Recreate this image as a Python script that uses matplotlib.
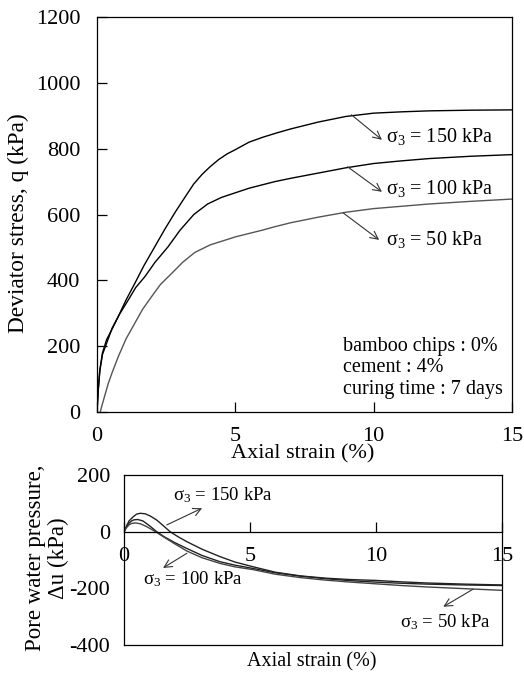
import matplotlib; matplotlib.use("Agg")
import matplotlib.pyplot as plt

plt.rcParams.update({"font.family": "Liberation Serif", "font.size": 14,
                     "mathtext.fontset": "custom", "mathtext.rm": "Liberation Serif",
                     "mathtext.it": "Liberation Serif:italic", "axes.linewidth": 0.9,
                     "axes.unicode_minus": False})

# deviator stress vs axial strain
q150_x = [0, 0.05, 0.11, 0.2, 0.35, 0.55, 0.77, 1.05, 1.37, 1.7, 2.09, 2.45, 2.85, 3.2, 3.5, 3.8, 4.1, 4.4, 4.7, 5.0, 5.5, 6.0, 6.5, 7.0, 8.0, 9.0, 10.0, 11.0, 12.0, 13.5, 15.0]
q150_y = [0, 70, 128, 175, 209, 255, 290, 340, 391, 445, 502, 555, 610, 655, 693, 722, 746, 767, 784, 797, 820, 835, 848, 860, 881, 898, 908, 912, 915, 917, 918]
q100_x = [0, 0.05, 0.1, 0.2, 0.35, 0.53, 0.8, 1.13, 1.4, 1.73, 2.1, 2.57, 3.0, 3.5, 4.0, 4.5, 5.0, 5.5, 6.43, 7.0, 8.0, 9.0, 10.0, 11.0, 12.0, 13.5, 15.0]
q100_y = [0, 70, 125, 180, 220, 249, 295, 340, 378, 411, 455, 502, 552, 600, 632, 652, 666, 680, 700, 710, 726, 742, 755, 763, 770, 777, 782]
q50_x = [0.12, 0.17, 0.25, 0.41, 0.55, 0.77, 1.05, 1.37, 1.65, 1.97, 2.3, 2.7, 3.1, 3.54, 4.1, 4.74, 5.0, 6.0, 6.43, 7.0, 8.0, 9.0, 10.0, 11.0, 12.0, 13.5, 15.0]
q50_y = [0, 16, 40, 87, 120, 168, 222, 270, 312, 350, 388, 421, 455, 485, 508, 525, 532, 553, 563, 575, 592, 607, 618, 625, 632, 640, 647]

# pore water pressure vs axial strain
u150_x = [0, 0.1, 0.2, 0.37, 0.5, 0.65, 0.85, 1.05, 1.3, 1.55, 1.83, 2.15, 2.49, 3.1, 3.81, 4.4, 5.13, 6, 7, 8, 9, 10, 11, 12, 13.5, 15]
u150_y = [0, 20, 38, 53, 62, 65, 63, 55, 41, 22, 0, -18, -35, -62, -88, -107, -124, -143, -156, -164, -169, -172, -177, -181, -185, -188]
u100_x = [0, 0.1, 0.2, 0.3, 0.4, 0.55, 0.75, 1.0, 1.3, 1.6, 2.0, 2.49, 3.1, 3.81, 4.4, 5.13, 6, 7, 8, 9, 10, 11, 12, 13.5, 15]
u100_y = [0, 17, 30, 38, 42, 43, 38, 22, 0, -18, -38, -59, -84, -106, -118, -130, -145, -157, -166, -173, -178, -182, -185, -188, -190]
u50_x = [0, 0.1, 0.2, 0.3, 0.45, 0.65, 0.9, 1.25, 1.6, 2.0, 2.49, 3.1, 3.81, 4.4, 5.13, 6, 7, 8, 9, 10, 11, 12, 13.5, 15]
u50_y = [0, 14, 24, 29, 31, 28, 18, 0, -20, -42, -68, -92, -112, -124, -134, -150, -162, -171, -178, -184, -190, -195, -201, -207]

labels = ["σ$_3$ = 150 kPa", "σ$_3$ = 100 kPa", "σ$_3$ = 50 kPa"]
arr = dict(arrowstyle="->", lw=0.8, color="#333333", shrinkA=0, shrinkB=0)

fig = plt.figure(figsize=(5.24, 6.74), dpi=100)

# top panel
ax = fig.add_axes([0.185, 0.3887, 0.792, 0.586])
ax.plot(q150_x, q150_y, color="black", lw=1.0)
ax.plot(q100_x, q100_y, color="black", lw=1.0)
ax.plot(q50_x, q50_y, color="#555555", lw=1.0)
ax.set_xlim(0, 15); ax.set_ylim(0, 1200)
ax.set_xticks([0, 5, 10, 15]); ax.set_yticks(range(0, 1201, 200))
ax.tick_params(direction="in", length=7, width=0.9, labelsize=16)
ax.tick_params(axis="x", pad=11)
ax.tick_params(axis="y", pad=12)
for (x0, y0, x1, y1, tx, ty), lab in zip([(9.2, 903, 10.3, 827, 10.45, 836),
                                          (9.06, 745, 10.3, 669, 10.45, 678),
                                          (8.9, 605, 10.2, 523, 10.45, 523)], labels):
    ax.annotate("", xy=(x1, y1), xytext=(x0, y0), arrowprops=arr)
    ax.text(tx, ty, lab, ha="left", va="center", fontsize=14.5)
ax.text(8.9, 134, "bamboo chips : 0%\ncement : 4%\ncuring time : 7 days",
        ha="left", va="center", fontsize=14.5, linespacing=1.15)
fig.text(0.578, 0.326, "Axial strain (%)", ha="center", va="center", fontsize=16)
fig.text(0.035, 0.669, "Deviator stress, q (kPa)", rotation=90, ha="center", va="center", fontsize=16.8)

# bottom panel
bx = fig.add_axes([0.2366, 0.043, 0.7214, 0.2522])
bx.plot(u150_x, u150_y, color="#222222", lw=1.0)
bx.plot(u100_x, u100_y, color="#222222", lw=1.0)
bx.plot(u50_x, u50_y, color="#444444", lw=1.0)
bx.set_xlim(0, 15); bx.set_ylim(-400, 200)
bx.spines["bottom"].set_position(("data", 0))
bx.axhline(-400, color="black", lw=0.9, clip_on=False)
bx.set_xticks([0, 5, 10, 15]); bx.set_yticks([-400, -200, 0, 200])
bx.tick_params(axis="x", direction="in", length=7, width=0.9, pad=11, labelsize=16)
bx.tick_params(axis="y", length=0, pad=10, labelsize=16)
for (x0, y0, x1, y1, tx, ty), lab in zip([(1.7, 24, 3.1, 83, 1.95, 130),
                                          (2.5, -76, 1.55, -128, 0.75, -167),
                                          (13.85, -203, 12.67, -265, 10.95, -321)], labels):
    bx.annotate("", xy=(x1, y1), xytext=(x0, y0), arrowprops=arr)
    bx.text(tx, ty, lab, ha="left", va="center", fontsize=13.5)
fig.text(0.595, 0.018, "Axial strain (%)", ha="center", va="center", fontsize=14.5)
fig.text(0.09, 0.172, "Pore water pressure,\nΔu (kPa)", rotation=90, ha="center", va="center",
         fontsize=16.5, linespacing=1.1)

fig.savefig("out.png", dpi=100)
